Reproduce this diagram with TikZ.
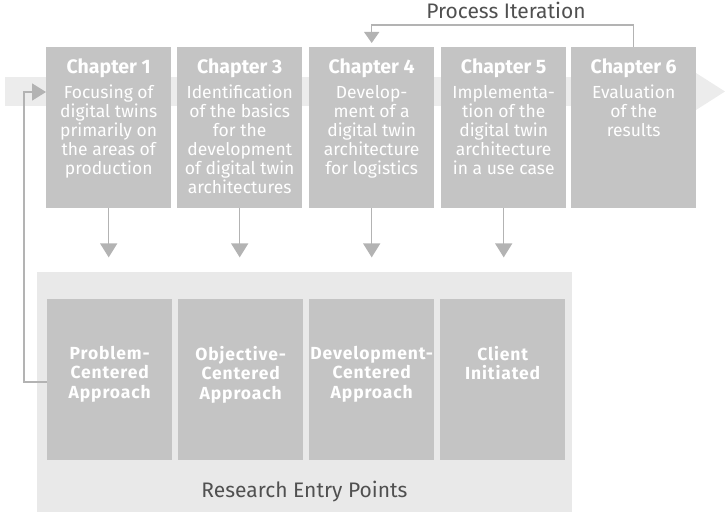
\documentclass[tikz,border=0pt]{standalone}
\usepackage{fontspec}
\setmainfont{Fira Sans}
\usetikzlibrary{arrows.meta}
\definecolor{boxgray}{HTML}{C4C4C4}
\definecolor{bandgray}{HTML}{ECECEC}
\definecolor{areagray}{HTML}{E9E9E9}
\definecolor{arrowgray}{HTML}{B3B3B3}
\definecolor{labelgray}{HTML}{505050}
\newcommand{\chtitle}[1]{{\bfseries\fontsize{19.5}{19}\selectfont #1}}
\tikzset{
  chbox/.style={fill=boxgray, minimum width=125pt, minimum height=161pt, inner sep=0pt, anchor=north west},
  chtext/.style={text=white, align=center, inner sep=0pt, anchor=north, font=\fontsize{17.5}{19}\selectfont},
  eptext/.style={text=white, align=center, inner sep=0pt, anchor=north, font=\bfseries\fontsize{17.5}{19.5}\selectfont\addfontfeatures{LetterSpace=5}},
  conn/.style={draw=arrowgray, line width=1.5pt},
  bigtip/.style={-{Triangle[length=14pt,width=17pt]}},
  smalltip/.style={-{Triangle[length=11pt,width=15pt]}},
  lbl/.style={text=labelgray, font=\fontsize{21}{22}\selectfont, inner sep=0pt}
}
\begin{document}
\begin{tikzpicture}[x=1pt,y=-1pt]
\useasboundingbox (0,0) rectangle (725,513);
% background band arrow
\fill[bandgray] (5,77) rectangle (697,106);
\fill[bandgray] (696,73) -- (725,91.5) -- (696,110) -- cycle;
% research area
\node[fill=areagray, minimum width=535pt, minimum height=240pt, inner sep=0pt, anchor=north west] (area) at (37,272) {};
\node[lbl, anchor=base] (arealbl) at (304.5,497) {Research Entry Points};
% chapter boxes
\node[chbox] (c1) at (46,47) {};
\node[chbox] (c3) at (177,47) {};
\node[chbox] (c4) at (309,47) {};
\node[chbox] (c5) at (441,47) {};
\node[chbox] (c6) at (571,47) {};
\node[chtext] (t1) at ([yshift=-12pt]c1.north) {\chtitle{Chapter 1}\\[6pt]Focusing of\\digital twins\\primarily on\\the areas of\\production};
\node[chtext] (t3) at ([yshift=-12pt]c3.north) {\chtitle{Chapter 3}\\[6pt]Identification\\of the basics\\for the\\development\\of digital twin\\architectures};
\node[chtext] (t4) at ([yshift=-12pt]c4.north) {\chtitle{Chapter 4}\\[6pt]Develop-\\ment of a\\digital twin\\architecture\\for logistics};
\node[chtext] (t5) at ([yshift=-12pt]c5.north) {\chtitle{Chapter 5}\\[6pt]Implementa-\\tion of the\\digital twin\\architecture\\in a use case};
\node[chtext] (t6) at ([yshift=-12pt]c6.north) {\chtitle{Chapter 6}\\[6pt]Evaluation\\of the\\results};
% entry point boxes
\node[chbox] (e1) at (47,299) {};
\node[chbox] (e2) at (178,299) {};
\node[chbox] (e3) at (309,299) {};
\node[chbox] (e4) at (440,299) {};
\node[eptext] (et1) at ([yshift=-47pt]e1.north) {Problem-\\Centered\\Approach};
\node[eptext] (et2) at ([yshift=-47pt]e2.north) {Objective-\\Centered\\Approach};
\node[eptext] (et3) at ([yshift=-47pt]e3.north) {Development-\\Centered\\Approach};
\node[eptext] (et4) at ([yshift=-47pt]e4.north) {Client\\Initiated};
% down arrows
\foreach \c in {c1,c3,c4,c5}{
  \coordinate (\c end) at ([yshift=-49pt]\c.south);
  \draw[conn, bigtip] (\c.south) -- (\c end);
}
% feedback from entry point 1 to chapter 1
\coordinate (fbx) at (24,382);
\draw[conn, bigtip] (e1.west |- fbx) -- (fbx) |- (c1.west |- 0,92);
% process iteration
\coordinate (pi) at (0,25);
\draw[conn, smalltip] (c6.north) -- (c6.north |- pi) -| ([yshift=4pt]c4.north);
\node[lbl, anchor=base] (pilbl) at (506,19) {Process Iteration};
\end{tikzpicture}
\end{document}
